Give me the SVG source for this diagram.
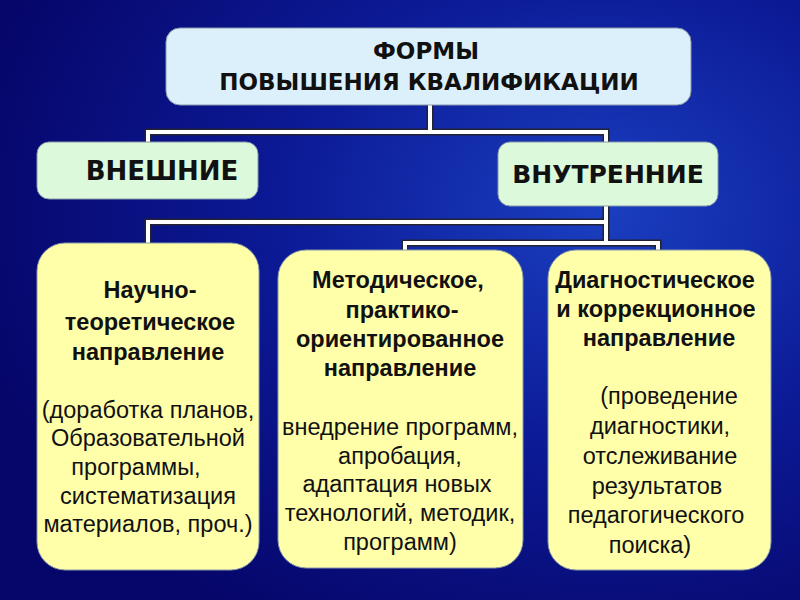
<svg xmlns="http://www.w3.org/2000/svg" width="800" height="600" viewBox="0 0 800 600">
<defs>
<radialGradient id="bg" cx="0.75" cy="0.35" r="0.8">
<stop offset="0" stop-color="#1a3fc0"/><stop offset="0.5" stop-color="#0c1a96"/><stop offset="1" stop-color="#06066a"/>
</radialGradient>
<style>
.t{font-family:"Liberation Sans",Arial,sans-serif;fill:#111;text-anchor:middle}
.h{font-family:"DejaVu Sans",sans-serif;font-weight:bold;fill:#111;text-anchor:middle}
.b{font-weight:bold}
.c1{stroke:#223;stroke-width:7;fill:none}
.c2{stroke:#fff;stroke-width:4;fill:none}
.box{stroke:#8899aa;stroke-width:1}
</style>
</defs>
<rect width="800" height="600" fill="url(#bg)"/>
<g id="connectors">
<path class="c1" d="M430 105V132M148 142V132H606V142M606 206V243M148 243V222H606M405 250V243H658V250"/>
<path class="c2" d="M430 105V132M148 142V132H606V142M606 206V243M148 243V222H606M405 250V243H658V250"/>
</g>
<g id="top"><rect class="box" x="166" y="28" width="525" height="77" rx="14" fill="#dcf0fb"/>
<text class="h" x="426" y="59" font-size="23">ФОРМЫ</text>
<text class="h" x="429" y="90" font-size="23">ПОВЫШЕНИЯ КВАЛИФИКАЦИИ</text></g>
<g id="ext"><rect class="box" x="37" y="142" width="221" height="57" rx="12" fill="#ddf9dc"/>
<text class="h" x="162" y="180" font-size="26">ВНЕШНИЕ</text></g>
<g id="int"><rect class="box" x="498" y="142" width="220" height="64" rx="12" fill="#ddf9dc"/>
<text class="h" x="608" y="183" font-size="25">ВНУТРЕННИЕ</text></g>
<g id="n1"><rect class="box" x="37" y="243" width="222" height="327" rx="28" fill="#ffffaa"/>
<g class="t" font-size="23.5"><text class="b" x="150" y="298">Научно-</text><text class="b" x="150" y="330">теоретическое</text><text class="b" x="148" y="360">направление</text>
<text x="148" y="418">(доработка планов,</text><text x="148" y="446">Образовательной</text><text x="136" y="475">программы,</text><text x="148" y="504">систематизация</text><text x="148" y="532">материалов, проч.)</text></g></g>
<g id="n2"><rect class="box" x="278" y="250" width="245" height="318" rx="28" fill="#ffffaa"/>
<g class="t" font-size="23.5"><text class="b" x="398" y="288">Методическое,</text><text class="b" x="402" y="318">практико-</text><text class="b" x="400" y="347">ориентированное</text><text class="b" x="400" y="376">направление</text>
<text x="400" y="435">внедрение программ,</text><text x="400" y="464">апробация,</text><text x="397" y="492">адаптация новых</text><text x="400" y="521">технологий, методик,</text><text x="400" y="550">программ)</text></g></g>
<g id="n3"><rect class="box" x="548" y="250" width="223" height="320" rx="28" fill="#ffffaa"/>
<g class="t" font-size="23.5"><text class="b" x="655" y="288">Диагностическое</text><text class="b" x="656" y="317">и коррекционное</text><text class="b" x="659" y="346">направление</text>
<text x="669" y="404">(проведение</text><text x="660" y="434">диагностики,</text><text x="660" y="464">отслеживание</text><text x="657" y="494">результатов</text><text x="656" y="523">педагогического</text><text x="650" y="553">поиска)</text></g></g>
</svg>
